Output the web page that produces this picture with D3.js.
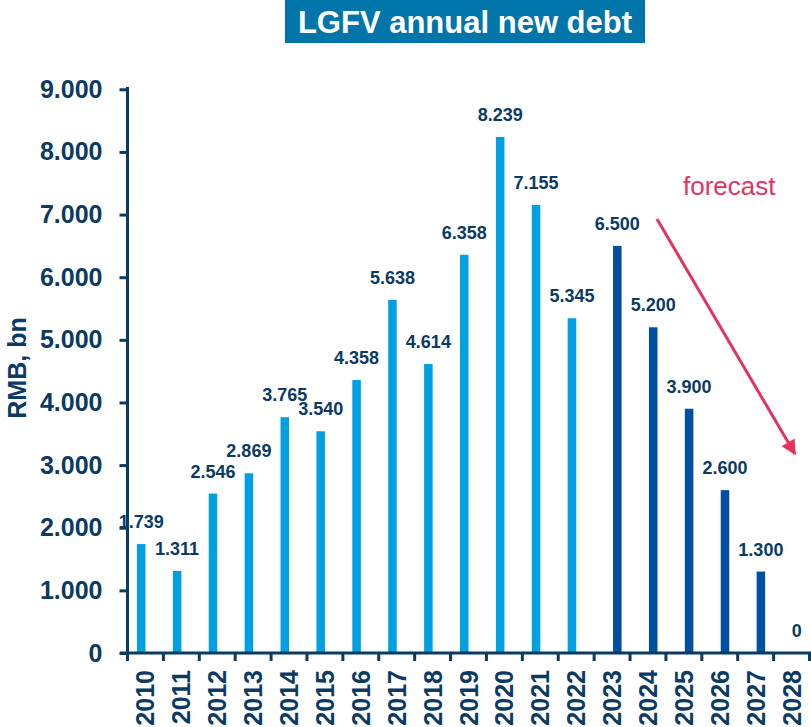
<!DOCTYPE html>
<html><head><meta charset="utf-8">
<script src="https://cdn.jsdelivr.net/npm/d3@7"></script>
<style>
html,body{margin:0;padding:0;background:#fff;}
svg{display:block;font-family:"Liberation Sans",Arial,sans-serif;}
</style></head>
<body>
<svg id="chart" width="811" height="727"></svg>
<script>
// ---- data ----
const years = ["2010","2011","2012","2013","2014","2015","2016","2017","2018","2019","2020","2021","2022","2023","2024","2025","2026","2027","2028"];
const historicalYears = ["2010","2011","2012","2013","2014","2015","2016","2017","2018","2019","2020","2021","2022"];
const historicalValues = [1739,1311,2546,2869,3765,3540,4358,5638,4614,6358,8239,7155,5345];
const forecastYears = ["2023","2024","2025","2026","2027","2028"];
const forecastValues = [6500,5200,3900,2600,1300,0];
const yTickValues = [0,1000,2000,3000,4000,5000,6000,7000,8000,9000];
const titleText = "LGFV annual new debt";
const yTitle = "RMB, bn";
const forecastLabel = "forecast";

// ---- styles ----
const navy = "#0B3A63";
const lightBlue = "#00A0E3";
const darkBlue = "#004FA0";
const pink = "#E5335F";

const svg = d3.select("#chart");
const loc = d3.formatLocale({decimal:",", thousands:".", grouping:[3], currency:["",""]});
const fmt = loc.format(",d");

const x = d3.scaleBand().domain(years).range([127.5, 809.5]).padding(0);
const sub = d3.scaleBand().domain(["hist","fcst"]).range([-8.5, 9.5]).paddingInner(0.1);
const y = d3.scaleLinear().domain([0, 9000]).range([653, 89.3]);

const histData = historicalYears.map((yr,i)=>({year:yr, value:historicalValues[i], s:"hist"}));
const fcstData = forecastYears.map((yr,i)=>({year:yr, value:forecastValues[i], s:"fcst"}));
const all = histData.concat(fcstData);

// title
svg.append("rect").attr("x",285).attr("y",0).attr("width",360).attr("height",43).attr("fill","#0075A9");
svg.append("text").attr("x",465).attr("y",33).attr("text-anchor","middle")
  .attr("fill","#fff").attr("font-weight","bold").attr("font-size",31).text(titleText);

// bars
svg.append("g").selectAll("rect").data(all).join("rect")
  .attr("x", d => x(d.year) + x.bandwidth()/2 + sub(d.s))
  .attr("width", sub.bandwidth())
  .attr("y", d => y(d.value))
  .attr("height", d => y(0) - y(d.value))
  .attr("fill", d => d.s === "hist" ? lightBlue : darkBlue);

// value labels
svg.append("g").selectAll("text").data(all).join("text")
  .attr("x", d => x(d.year) + x.bandwidth()/2 + sub(d.s) + sub.bandwidth()/2)
  .attr("y", d => y(d.value) - 16)
  .attr("text-anchor","middle")
  .attr("fill", navy).attr("font-weight","bold").attr("font-size",18)
  .text(d => fmt(d.value));

// y axis
const yAxis = d3.axisLeft(y).tickValues(yTickValues).tickFormat(fmt).tickSize(8).tickPadding(17);
const gy = svg.append("g").attr("transform","translate(127.5,0)").call(yAxis);
gy.select(".domain").remove();
gy.selectAll(".tick line").attr("stroke", navy).attr("stroke-width",3);
gy.selectAll(".tick text").attr("fill", navy).attr("font-weight","bold").attr("font-size",25)
  .attr("font-family","Liberation Sans, Arial, sans-serif");
gy.append("line").attr("x1",0).attr("x2",0).attr("y1",87).attr("y2",654.5).attr("stroke",navy).attr("stroke-width",3);

// x axis
const xAxis = d3.axisBottom(x).tickSize(0).tickPadding(0);
const gx = svg.append("g").attr("transform","translate(0,653)").call(xAxis);
gx.select(".domain").remove();
gx.selectAll(".tick text")
  .attr("transform","translate(0,17) rotate(-90)")
  .attr("x",0).attr("y",0).attr("dy","0.36em")
  .attr("text-anchor","end")
  .attr("fill", navy).attr("font-weight","bold").attr("font-size",25)
  .attr("font-family","Liberation Sans, Arial, sans-serif");
const bounds = years.map(d => x(d)).concat([x.range()[1]]);
gx.append("g").selectAll("line").data(bounds).join("line")
  .attr("x1", d => d).attr("x2", d => d).attr("y1",0).attr("y2",8)
  .attr("stroke", navy).attr("stroke-width",3);
gx.append("line").attr("x1",120).attr("x2",811).attr("y1",0).attr("y2",0).attr("stroke",navy).attr("stroke-width",3);

// y title
svg.append("text").attr("transform","translate(26,368) rotate(-90)")
  .attr("text-anchor","middle").attr("fill",navy).attr("font-weight","bold").attr("font-size",25).text(yTitle);

// forecast annotation
const defs = svg.append("defs");
defs.append("marker").attr("id","ah").attr("viewBox","0 0 10 10").attr("refX",9).attr("refY",5)
  .attr("markerWidth",6).attr("markerHeight",5).attr("markerUnits","strokeWidth").attr("orient","auto")
  .append("path").attr("d","M0,0 L10,5 L0,10 Z").attr("fill",pink);
svg.append("line").attr("x1",657).attr("y1",219).attr("x2",795).attr("y2",454)
  .attr("stroke",pink).attr("stroke-width",3).attr("marker-end","url(#ah)");
svg.append("text").attr("x",683).attr("y",195).attr("fill",pink).attr("font-size",26).text(forecastLabel);
</script>
</body></html>
